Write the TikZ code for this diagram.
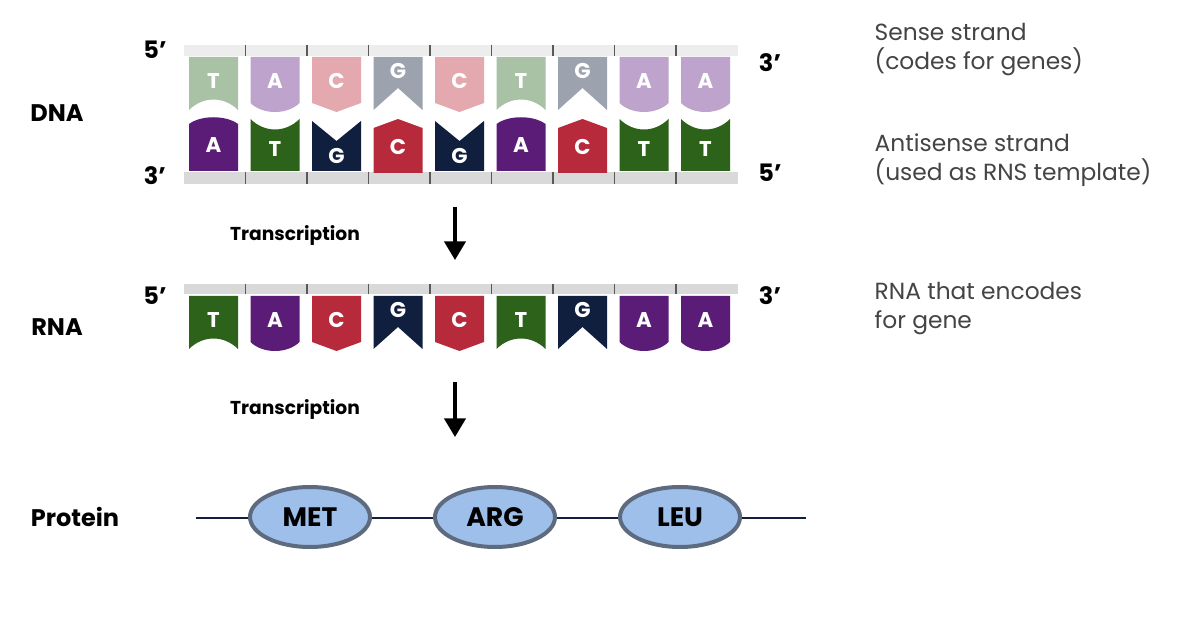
\documentclass[tikz,border=0pt]{standalone}
\usepackage{fontspec}
\setmainfont{Poppins}
\usetikzlibrary{arrows.meta,shapes.geometric}
\definecolor{lT}{HTML}{A9C1A5}\definecolor{lA}{HTML}{BEA3CC}\definecolor{lC}{HTML}{E3A9AF}\definecolor{lG}{HTML}{9CA3AE}
\definecolor{dA}{HTML}{5B1C78}\definecolor{dT}{HTML}{2D621A}\definecolor{dG}{HTML}{101F3D}\definecolor{dC}{HTML}{B62A3B}
\definecolor{txt}{HTML}{444444}
\definecolor{protf}{HTML}{9DBFEA}\definecolor{protd}{HTML}{5E6A7E}
\tikzset{x=0.75pt,y=-0.75pt,
 let/.style={text=white,font=\fontsize{16}{16}\selectfont\bfseries},
 lab/.style={font=\fontsize{18}{19}\selectfont\bfseries},
 side/.style={font=\fontsize{17.5}{21.75}\selectfont,text=txt,align=left,anchor=north west},
 prot/.style={ellipse,draw=protd,line width=3pt,fill=protf,minimum width=90pt,minimum height=45pt,inner sep=0pt,font=\fontsize{20}{21}\selectfont\bfseries},
 tr/.style={font=\fontsize{14}{15}\selectfont\bfseries},
 arr/.style={-{Triangle[length=14pt,width=16pt]},line width=2.5pt}}
\newcommand\htile[5]{%
 \pgfmathsetmacro\xa{189+61.5*#1}\pgfmathsetmacro\xb{\xa+49}\pgfmathsetmacro\xm{\xa+24.5}
 \pgfmathsetmacro\yt{#2}%
 \if#3T\fill[#4] (\xa,\yt)--(\xb,\yt)--(\xb,\yt+53) .. controls (\xb-14,\yt+39) and (\xa+14,\yt+39) .. (\xa,\yt+53)--cycle;
  \node[let] at (\xm,\yt+24) {#5};\fi
 \if#3A\fill[#4] (\xa,\yt)--(\xb,\yt)--(\xb,\yt+46) .. controls (\xb-12,\yt+58) and (\xa+12,\yt+58) .. (\xa,\yt+46)--cycle;
  \node[let] at (\xm,\yt+24) {#5};\fi
 \if#3C\fill[#4] (\xa,\yt)--(\xb,\yt)--(\xb,\yt+46)--(\xm,\yt+55)--(\xa,\yt+46)--cycle;
  \node[let] at (\xm,\yt+24) {#5};\fi
 \if#3G\fill[#4] (\xa,\yt)--(\xb,\yt)--(\xb,\yt+53)--(\xm,\yt+31)--(\xa,\yt+53)--cycle;
  \node[let] at (\xm,\yt+14) {#5};\fi}
\newcommand\stile[5]{%
 \pgfmathsetmacro\xa{189+61.5*#1}\pgfmathsetmacro\xb{\xa+49}\pgfmathsetmacro\xm{\xa+24.5}
 \pgfmathsetmacro\yb{#2}%
 \if#3A\fill[#4] (\xa,\yb)--(\xb,\yb)--(\xb,\yb-47) .. controls (\xb-12,\yb-56) and (\xa+12,\yb-56) .. (\xa,\yb-47)--cycle;
  \node[let] at (\xm,\yb-26) {#5};\fi
 \if#3T\fill[#4] (\xa,\yb)--(\xb,\yb)--(\xb,\yb-52) .. controls (\xb-14,\yb-38) and (\xa+14,\yb-38) .. (\xa,\yb-52)--cycle;
  \node[let] at (\xm,\yb-22) {#5};\fi
 \if#3C\fill[#4] (\xa,\yb+2)--(\xb,\yb+2)--(\xb,\yb-43)--(\xm,\yb-52)--(\xa,\yb-43)--cycle;
  \node[let] at (\xm,\yb-24) {#5};\fi
 \if#3G\fill[#4] (\xa,\yb)--(\xb,\yb)--(\xb,\yb-50)--(\xm,\yb-30)--(\xa,\yb-50)--cycle;
  \node[let] at (\xm,\yb-15) {#5};\fi}
\newcommand\dnabar[3]{\fill[#3] (184,#1) rectangle (738,#2);
 \foreach \k in {1,...,8}{\draw[gray!70!black,line width=0.8pt] (184+61.5*\k,#1) -- (184+61.5*\k,#2);}}
\begin{document}
\begin{tikzpicture}
\useasboundingbox[fill=white] (0,0) rectangle (1200,630);
\dnabar{45}{56}{black!7}
\dnabar{172}{184}{black!15}
\dnabar{284}{294}{black!15}
\foreach \i/\t/\c in {0/T/lT,1/A/lA,2/C/lC,3/G/lG,4/C/lC,5/T/lT,6/G/lG,7/A/lA,8/A/lA}{\htile{\i}{57}{\t}{\c}{\t}}
\foreach \i/\t/\c in {0/A/dA,1/T/dT,2/G/dG,3/C/dC,4/G/dG,5/A/dA,6/C/dC,7/T/dT,8/T/dT}{\stile{\i}{171}{\t}{\c}{\t}}
\foreach \i/\t/\c in {0/T/dT,1/A/dA,2/C/dC,3/G/dG,4/C/dC,5/T/dT,6/G/dG,7/A/dA,8/A/dA}{\htile{\i}{296}{\t}{\c}{\t}}
\node[lab] (p5a) at (155,50) {5’};
\node[lab] (p3a) at (770,63) {3’};
\node[lab] (p3b) at (155,176) {3’};
\node[lab] (p5b) at (770,173) {5’};
\node[lab] (p5c) at (155,296) {5’};
\node[lab] (p3c) at (770,296) {3’};
\node[lab] (dna) at (57,113) {DNA};
\node[lab] (rna) at (57,327) {RNA};
\node[lab] (pro) at (75,517) {Protein};
\node[side] (s1) at (870,19) {Sense strand\\(codes for genes)};
\node[side] (s2) at (870,129) {Antisense strand\\(used as RNS template)};
\node[side] (s3) at (870,278) {RNA that encodes\\for gene};
\node[tr] (t1) at (295,236) {Transcription};
\node[tr] (t2) at (295,410) {Transcription};
\coordinate (a1) at (455,207); \coordinate (a2) at (455,260);
\coordinate (b1) at (455,382); \coordinate (b2) at (455,437);
\draw[arr] (a1) -- (a2);
\draw[arr] (b1) -- (b2);
\coordinate (l0) at (196,518); \coordinate (l1) at (806,518);
\draw[color=dG,line width=0.8pt] (l0) -- (l1);
\node[prot] (met) at (310,517) {MET};
\node[prot] (arg) at (495,517) {ARG};
\node[prot] (leu) at (680,517) {LEU};
\end{tikzpicture}
\end{document}
